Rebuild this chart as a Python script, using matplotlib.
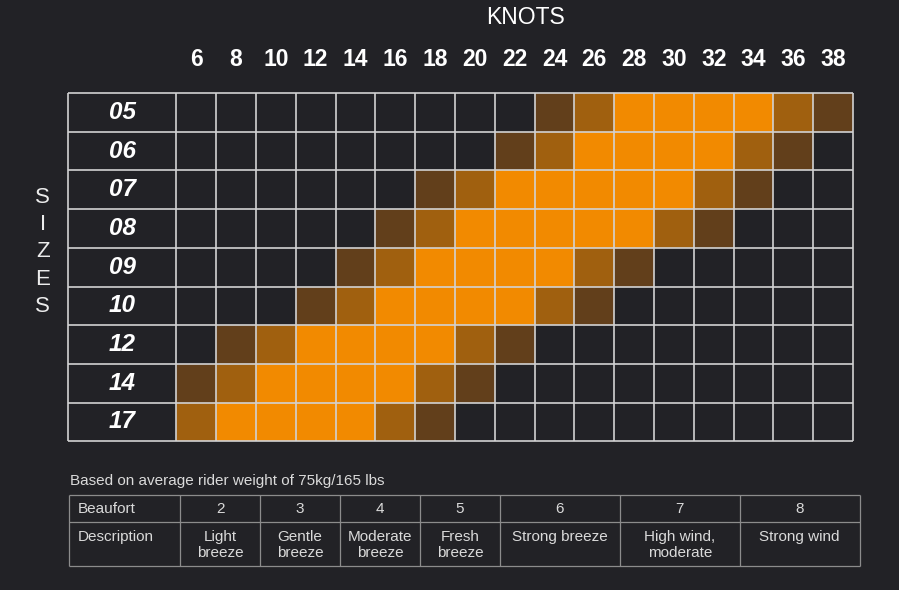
import numpy as np
import matplotlib.pyplot as plt
from matplotlib.colors import ListedColormap

plt.rcParams['font.family'] = ['Liberation Sans', 'DejaVu Sans']

# Size chart data: 0 = not suitable, 1 = marginal, 2 = ok, 3 = ideal
knots = [6, 8, 10, 12, 14, 16, 18, 20, 22, 24, 26, 28, 30, 32, 34, 36, 38]
sizes = ['05', '06', '07', '08', '09', '10', '12', '14', '17']
suitability = [
    [0, 0, 0, 0, 0, 0, 0, 0, 0, 1, 2, 3, 3, 3, 3, 2, 1],
    [0, 0, 0, 0, 0, 0, 0, 0, 1, 2, 3, 3, 3, 3, 2, 1, 0],
    [0, 0, 0, 0, 0, 0, 1, 2, 3, 3, 3, 3, 3, 2, 1, 0, 0],
    [0, 0, 0, 0, 0, 1, 2, 3, 3, 3, 3, 3, 2, 1, 0, 0, 0],
    [0, 0, 0, 0, 1, 2, 3, 3, 3, 3, 2, 1, 0, 0, 0, 0, 0],
    [0, 0, 0, 1, 2, 3, 3, 3, 3, 2, 1, 0, 0, 0, 0, 0, 0],
    [0, 1, 2, 3, 3, 3, 3, 2, 1, 0, 0, 0, 0, 0, 0, 0, 0],
    [1, 2, 3, 3, 3, 3, 2, 1, 0, 0, 0, 0, 0, 0, 0, 0, 0],
    [2, 3, 3, 3, 3, 2, 1, 0, 0, 0, 0, 0, 0, 0, 0, 0, 0],
]

# Beaufort table data
beaufort = ['2', '3', '4', '5', '6', '7', '8']
descriptions = ['Light\nbreeze', 'Gentle\nbreeze', 'Moderate\nbreeze',
                'Fresh\nbreeze', 'Strong breeze', 'High wind,\nmoderate',
                'Strong wind']
beaufort_widths = [2, 2, 2, 2, 3, 3, 3]
note = 'Based on average rider weight of 75kg/165 lbs'

BG = '#222226'
LEVEL_COLORS = [BG, '#623f1b', '#a0600f', '#f28a00']
GRID = '#d2d2d2'
TABLE_LINE = '#8c8c8c'
TABLE_TEXT = '#dadada'

W, H = 899, 590
fig = plt.figure(figsize=(W / 100, H / 100), dpi=100, facecolor=BG)

# Main grid (label column + knot columns)
label_w = 2.72
ax = fig.add_axes([68 / W, 1 - 441.3 / H, (853 - 68) / W, (441.3 - 93) / H])
ax.set_facecolor(BG)
grid = np.array(suitability)
ax.pcolormesh(np.arange(len(knots) + 1), np.arange(len(sizes) + 1), grid,
              cmap=ListedColormap(LEVEL_COLORS), vmin=-0.5, vmax=3.5)
ax.set_xlim(-label_w, len(knots))
ax.set_ylim(len(sizes), 0)
ax.vlines([-label_w] + list(range(len(knots) + 1)), 0, len(sizes),
          color=GRID, lw=1.2, clip_on=False)
ax.hlines(range(len(sizes) + 1), -label_w, len(knots),
          color=GRID, lw=1.2, clip_on=False)
for sp in ax.spines.values():
    sp.set_visible(False)

ax.set_xticks(np.arange(len(knots)) + 0.5, [str(k) for k in knots])
ax.xaxis.tick_top()
ax.tick_params(axis='x', length=0, pad=16, labelsize=16.5, labelcolor='white')
for lab in ax.get_xticklabels():
    lab.set_fontweight('bold')
ax.set_yticks([])

for i, s in enumerate(sizes):
    ax.text(-label_w / 2, i + 0.5, s, ha='center', va='center',
            fontsize=17.5, fontweight='bold', fontstyle='italic', color='white')

fig.text(526 / W, 1 - 17 / H, 'KNOTS', ha='center', va='center',
         fontsize=16.5, color='white')
fig.text(42.7 / W, 1 - 252 / H, 'S\nI\nZ\nE\nS', ha='center', va='center',
         fontsize=16, linespacing=1.38, color='#ececec')

# Beaufort table
fig.text(70 / W, 1 - 480.7 / H, note, ha='left', va='center',
         fontsize=11, color=TABLE_TEXT)

tax = fig.add_axes([69.3 / W, 1 - 566 / H, 790.4 / W, 71 / H])
tax.set_facecolor(BG)
tax.axis('off')
first_w = 2.77
total_w = first_w + sum(beaufort_widths)
row_split = 27.3
tax.set_xlim(0, total_w)
tax.set_ylim(71, 0)

edges = np.concatenate([[0, first_w], first_w + np.cumsum(beaufort_widths)])
tax.vlines(edges, 0, 71, color=TABLE_LINE, lw=0.9, clip_on=False)
tax.hlines([0, row_split, 71], 0, total_w, color=TABLE_LINE, lw=0.9,
           clip_on=False)

tax.text(0.22, row_split / 2, 'Beaufort', ha='left', va='center',
         fontsize=11, color=TABLE_TEXT)
tax.text(0.22, 35, 'Description', ha='left', va='top',
         fontsize=11, color=TABLE_TEXT)
for j, (b, d) in enumerate(zip(beaufort, descriptions)):
    xc = (edges[j + 1] + edges[j + 2]) / 2
    tax.text(xc, row_split / 2, b, ha='center', va='center',
             fontsize=11, color=TABLE_TEXT)
    tax.text(xc, 35, d, ha='center', va='top', fontsize=11,
             linespacing=1.2, color=TABLE_TEXT)

fig.savefig('out.png', dpi=100, facecolor=BG)
